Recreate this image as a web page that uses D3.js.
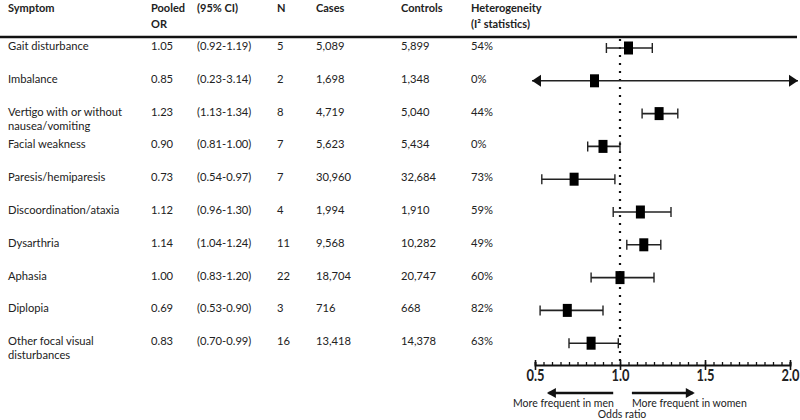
<!DOCTYPE html>
<html><head><meta charset="utf-8">
<script src="https://cdn.jsdelivr.net/npm/d3@7"></script>
<style>
body{margin:0;background:#fff;}
text{font-family:Lato,"Open Sans",sans-serif;fill:#222;}
</style></head>
<body><svg id="c" width="800" height="420"></svg>
<script>
const symptoms = ["Gait disturbance","Imbalance","Vertigo with or without\nnausea/vomiting","Facial weakness","Paresis/hemiparesis","Discoordination/ataxia","Dysarthria","Aphasia","Diplopia","Other focal visual\ndisturbances"];
const pooledOR = [1.05,0.85,1.23,0.90,0.73,1.12,1.14,1.00,0.69,0.83];
const ciLow = [0.92,0.23,1.13,0.81,0.54,0.96,1.04,0.83,0.53,0.70];
const ciHigh = [1.19,3.14,1.34,1.00,0.97,1.30,1.24,1.20,0.90,0.99];
const nStudies = [5,2,8,7,7,4,11,22,3,16];
const cases = ["5,089","1,698","4,719","5,623","30,960","1,994","9,568","18,704","716","13,418"];
const controls = ["5,899","1,348","5,040","5,434","32,684","1,910","10,282","20,747","668","14,378"];
const heterogeneity = ["54%","0%","44%","0%","73%","59%","49%","60%","82%","63%"];
const axisTicks = [0.5,1.0,1.5,2.0];
const headers = [["Symptom"],["Pooled","OR"],["(95% CI)"],["N"],["Cases"],["Controls"],["Heterogeneity","(I² statistics)"]];

const svg = d3.select("#c");
const x = d3.scaleLinear().domain([0.5,2.0]).range([535,790]);
const y = d3.scalePoint().domain(d3.range(symptoms.length)).range([48,343.2]);
const colX = [8,151,197,277,316,401,471];
const FS = 11.2;

// headers
headers.forEach((h,i)=>{
  h.forEach((line,j)=>{
    svg.append("text").attr("x",colX[i]).attr("y",12+j*16)
      .attr("font-size",11).attr("font-weight","bold").text(line);
  });
});
svg.append("line").attr("x1",0).attr("x2",797).attr("y1",37).attr("y2",37)
  .attr("stroke","#111").attr("stroke-width",2.5);

// table rows
const cols = [
  i=>pooledOR[i].toFixed(2),
  i=>"("+ciLow[i].toFixed(2)+"-"+ciHigh[i].toFixed(2)+")",
  i=>String(nStudies[i]),
  i=>cases[i], i=>controls[i], i=>heterogeneity[i]
];
symptoms.forEach((s,i)=>{
  const yy = y(i)+2;
  s.split("\n").forEach((line,j)=>{
    svg.append("text").attr("x",colX[0]).attr("y",yy+j*14).attr("font-size",FS).text(line);
  });
  cols.forEach((f,k)=>{
    svg.append("text").attr("x",colX[k+1]).attr("y",yy).attr("font-size",FS).text(f(i));
  });
});

// dotted reference line
svg.append("line").attr("x1",x(1)).attr("x2",x(1)).attr("y1",39).attr("y2",366)
  .attr("stroke","#111").attr("stroke-width",2.2).attr("stroke-dasharray","2,6");

// forest marks
const [dMin,dMax] = x.domain();
symptoms.forEach((s,i)=>{
  const yy = y(i);
  const g = svg.append("g");
  const lo = ciLow[i], hi = ciHigh[i];
  const x1 = lo < dMin ? x(dMin)-3 : x(lo);
  const x2 = hi > dMax ? x(dMax)+8 : x(hi);
  g.append("line").attr("x1",x1).attr("x2",x2).attr("y1",yy).attr("y2",yy)
    .attr("stroke","#222").attr("stroke-width",1.6);
  if(lo < dMin){
    g.append("path").attr("d",`M${x1},${yy}l9,-6v12z`).attr("fill","#111");
  } else {
    g.append("line").attr("x1",x1).attr("x2",x1).attr("y1",yy-5).attr("y2",yy+5).attr("stroke","#222").attr("stroke-width",1.4);
  }
  if(hi > dMax){
    g.append("path").attr("d",`M${x2},${yy}l-9,-6v12z`).attr("fill","#111");
  } else {
    g.append("line").attr("x1",x2).attr("x2",x2).attr("y1",yy-5).attr("y2",yy+5).attr("stroke","#222").attr("stroke-width",1.4);
  }
  g.append("rect").attr("x",x(pooledOR[i])-4.5).attr("y",yy-6.5).attr("width",9).attr("height",13).attr("fill","#000");
});

// axis
const axisY = 365;
const minor = d3.range(0.5,2.0001,0.05).map(v=>+v.toFixed(2));
const gMinor = svg.append("g").attr("transform",`translate(0,${axisY})`)
  .call(d3.axisTop(x).tickValues(minor).tickSize(3).tickFormat(""));
gMinor.select(".domain").attr("stroke","#111").attr("stroke-width",2);
gMinor.selectAll(".tick line").attr("stroke","#111").attr("stroke-width",1.3);
const gMajor = svg.append("g").attr("transform",`translate(0,${axisY-5})`)
  .call(d3.axisBottom(x).tickValues(axisTicks).tickSize(10).tickPadding(4).tickFormat(d3.format(".1f")));
gMajor.select(".domain").remove();
gMajor.selectAll(".tick line").attr("stroke","#111").attr("stroke-width",1.6);
gMajor.selectAll(".tick text").attr("font-family","'Liberation Sans','Arial',sans-serif")
  .attr("font-weight","bold").attr("font-size",16.5).attr("fill","#111").attr("dy","0.45em")
  .attr("transform","scale(0.78,1)");

// direction arrows and labels
const arrY = 393;
svg.append("line").attr("x1",x(0.58)).attr("x2",x(0.96)).attr("y1",arrY).attr("y2",arrY).attr("stroke","#111").attr("stroke-width",2.5);
svg.append("path").attr("d",`M${x(0.57)},${arrY}l9,-5v10z`).attr("fill","#111");
svg.append("line").attr("x1",x(1.07)).attr("x2",x(1.43)).attr("y1",arrY).attr("y2",arrY).attr("stroke","#111").attr("stroke-width",2.5);
svg.append("path").attr("d",`M${x(1.44)},${arrY}l-9,-5v10z`).attr("fill","#111");
svg.append("text").attr("x",513).attr("y",407).attr("font-size",10.5).text("More frequent in men");
svg.append("text").attr("x",632).attr("y",407).attr("font-size",10.5).text("More frequent in women");
svg.append("text").attr("x",622).attr("y",418).attr("text-anchor","middle").attr("font-size",10.5).text("Odds ratio");
</script></body></html>
